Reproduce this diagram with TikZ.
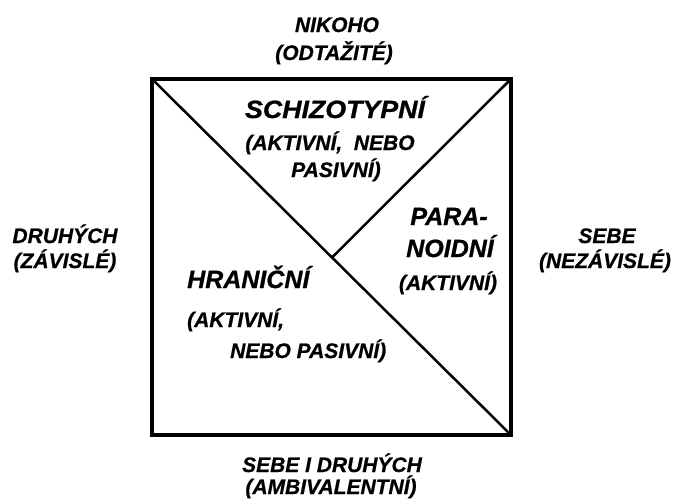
\documentclass[tikz,border=0pt]{standalone}
\usepackage{fontspec}
\setmainfont{Liberation Sans}[BoldItalicFeatures={FakeBold=0.8}]
\begin{document}
\begin{tikzpicture}[x=1pt,y=-1pt,
  big/.style={inner sep=0pt,font=\fontsize{25}{30}\selectfont\bfseries\itshape},
  small/.style={inner sep=0pt,font=\fontsize{21}{25}\selectfont\bfseries\itshape},
  frame/.style={line width=4pt},
  divider/.style={line width=2.5pt}]
\useasboundingbox (0,0) rectangle (673,504);
% square
\coordinate (tl) at (152,79);
\coordinate (tr) at (511,79);
\coordinate (br) at (511,435);
\coordinate (bl) at (152,435);
\coordinate (mid) at (332,257.5);
\draw[divider] (tl) -- (br);
\draw[divider] (tr) -- (mid);
\draw[frame] (tl) rectangle (br);
% outer labels
\node[small,anchor=base] (n1) at (337,32) {NIKOHO};
\node[small,anchor=base] (n2) at (334,60) {(ODTAŽITÉ)};
\node[small,anchor=base] (d1) at (65,243) {DRUHÝCH};
\node[small,anchor=base] (d2) at (65,268) {(ZÁVISLÉ)};
\node[small,anchor=base] (s1) at (607,243) {SEBE};
\node[small,anchor=base] (s2) at (605,268) {(NEZÁVISLÉ)};
\node[small,anchor=base] (b1) at (332,472) {SEBE I DRUHÝCH};
\node[small,anchor=base] (b2) at (331,494) {(AMBIVALENTNÍ)};
% inner labels
\node[big,anchor=base] (sc1) at (335,118) {\scalebox{1.07}[1]{SCHIZOTYPNÍ}};
\node[small,anchor=base] (sc2) at (330,150) {(AKTIVNÍ,\ \ NEBO};
\node[small,anchor=base] (sc3) at (336,177) {PASIVNÍ)};
\node[big,anchor=base] (p1) at (449,225) {PARA-};
\node[big,anchor=base] (p2) at (450,257) {NOIDNÍ};
\node[small,anchor=base] (p3) at (448,290) {(AKTIVNÍ)};
\node[big,anchor=base west] (h1) at (187,288) {HRANIČNÍ};
\node[small,anchor=base west] (h2) at (187,327) {(AKTIVNÍ,};
\node[small,anchor=base west] (h3) at (230,358) {NEBO PASIVNÍ)};
\end{tikzpicture}
\end{document}
